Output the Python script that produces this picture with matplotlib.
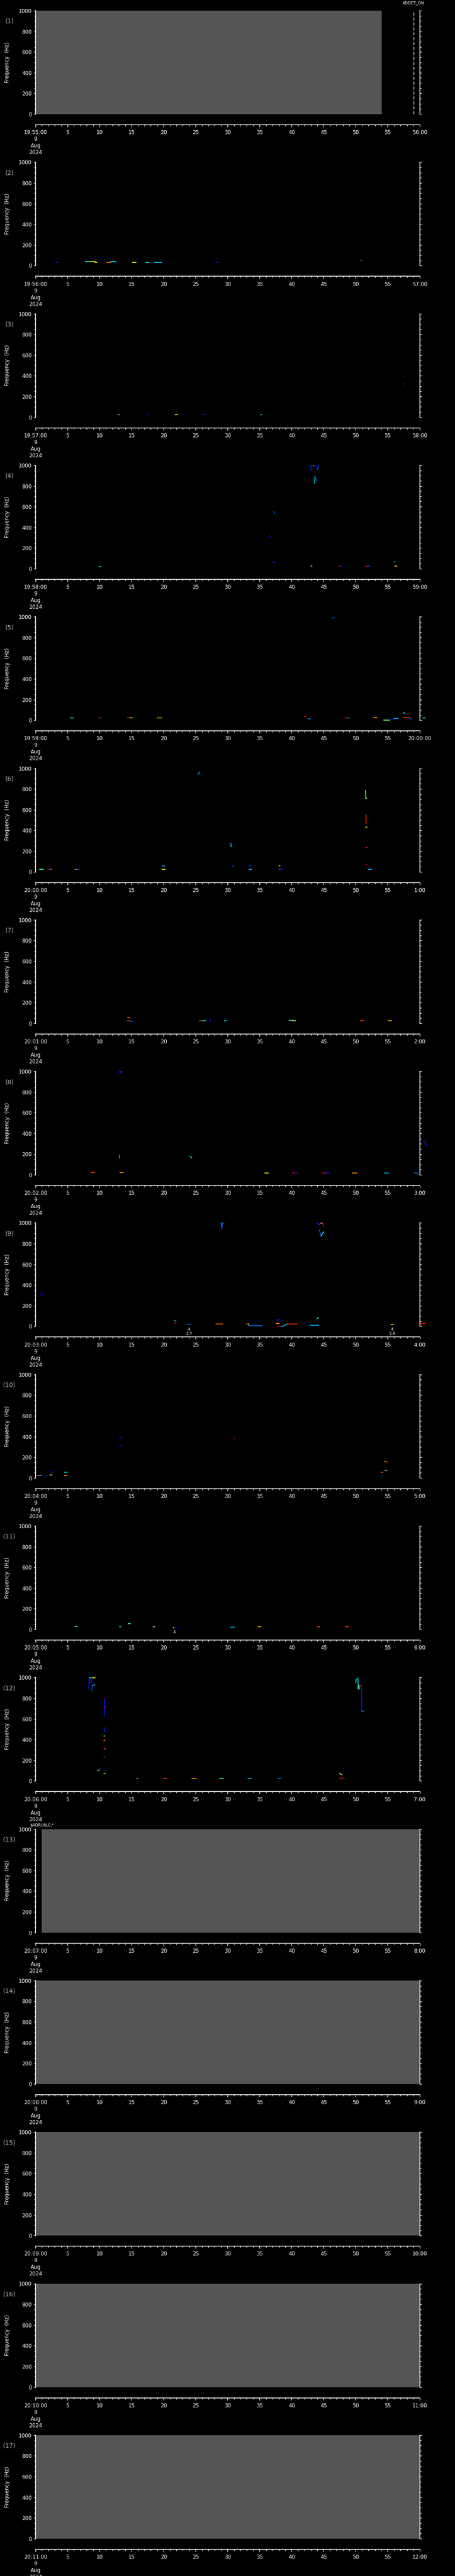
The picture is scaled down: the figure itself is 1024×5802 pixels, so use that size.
import numpy as np
import matplotlib.pyplot as plt
from matplotlib import transforms

# Time axis labels, one panel per minute
start_labels = ["19:55:00", "19:56:00", "19:57:00", "19:58:00", "19:59:00",
                "20:00:00", "20:01:00", "20:02:00", "20:03:00", "20:04:00",
                "20:05:00", "20:06:00", "20:07:00", "20:08:00", "20:09:00",
                "20:10:00", "20:11:00"]
end_labels = ["56:00", "57:00", "58:00", "59:00", "20:00:00", "1:00", "2:00",
              "3:00", "4:00", "5:00", "6:00", "7:00", "8:00", "9:00", "10:00",
              "11:00", "12:00"]
date_lines = ["9", "Aug", "2024"]
sec_ticks = list(range(0, 61, 5))
freq_ticks = [0, 200, 400, 600, 800, 1000]

# Segments of spectral power: (t0 [s], t1 [s], f0 [Hz], f1 [Hz], colour level 0..1)
seg_01 = []
seg_02 = [(3.2, 3.5, 33, 33, 0.15), (7.8, 8.6, 38, 38, 0.38), (8.6, 9.3, 38, 38, 0.65),
          (9.3, 9.6, 33, 33, 0.65), (11.1, 11.7, 33, 33, 0.8), (11.7, 12.4, 38, 38, 0.35),
          (12.4, 12.6, 33, 33, 0.2), (15.1, 15.7, 33, 33, 0.62), (17.2, 17.7, 33, 33, 0.35),
          (18.6, 19.7, 33, 33, 0.32), (28.3, 28.5, 33, 33, 0.15), (50.8, 50.9, 54, 54, 0.38)]
seg_03 = [(12.8, 12.95, 26, 26, 0.9), (12.95, 13.1, 26, 26, 0.35), (17.35, 17.5, 26, 26, 0.15),
          (21.8, 22.2, 26, 26, 0.6), (26.3, 26.6, 26, 26, 0.15), (35.1, 35.3, 26, 26, 0.3),
          (57.4, 57.5, 394, 394, 1.0), (57.4, 57.5, 324, 316, 1.0)]
seg_04 = [(43.0, 43.05, 997, 950, 0.15), (43.0, 43.2, 997, 997, 0.2), (43.4, 43.5, 997, 997, 0.8),
          (43.9, 44.05, 997, 960, 0.15), (44.05, 44.2, 960, 997, 0.2),
          (43.6, 43.65, 825, 897, 0.35), (43.65, 43.9, 897, 850, 0.2),
          (37.2, 37.4, 553, 530, 0.2), (36.5, 36.7, 323, 302, 0.15), (37.1, 37.4, 59, 59, 0.15),
          (9.9, 10.1, 21, 21, 0.4), (43.0, 43.2, 26, 26, 0.45),
          (47.3, 47.55, 26, 26, 0.9), (47.55, 47.8, 26, 26, 0.15),
          (51.6, 51.9, 26, 26, 0.9), (51.9, 52.2, 26, 26, 0.2),
          (56.05, 56.15, 69, 69, 0.35), (56.1, 56.25, 26, 26, 0.9), (56.25, 56.4, 26, 26, 0.65)]
seg_05 = [(5.4, 5.9, 21, 21, 0.4), (9.8, 10.1, 21, 21, 0.9), (10.1, 10.3, 24, 24, 0.2),
          (14.4, 14.8, 26, 26, 0.9), (14.8, 15.1, 21, 21, 0.5), (19.0, 19.7, 21, 21, 0.7),
          (42.0, 42.3, 34, 34, 0.9), (42.6, 42.9, 13, 13, 0.25), (46.4, 46.7, 986, 994, 0.2),
          (48.3, 48.7, 21, 21, 0.9), (48.7, 49.1, 21, 21, 0.25), (52.8, 53.3, 26, 26, 0.75),
          (54.4, 55.3, 0, 0, 0.5), (55.3, 56.0, 6, 6, 0.15), (56.0, 56.6, 19, 19, 0.3),
          (57.5, 58.5, 26, 26, 0.85), (58.5, 58.8, 14, 14, 0.2), (57.5, 57.6, 78, 64, 0.35),
          (60.5, 60.9, 21, 21, 0.45)]
seg_06 = [(0.6, 1.2, 24, 24, 0.4), (1.9, 2.2, 24, 24, 0.15), (2.2, 2.5, 24, 24, 0.85),
          (6.2, 6.5, 24, 24, 0.8), (6.5, 6.8, 24, 24, 0.2), (19.8, 20.2, 58, 55, 0.3),
          (19.8, 20.2, 24, 24, 0.6), (25.4, 25.6, 944, 962, 0.3),
          (30.5, 30.55, 277, 244, 0.3), (30.55, 30.7, 244, 244, 0.3), (30.7, 31.0, 49, 63, 0.2),
          (33.4, 33.7, 58, 58, 0.15), (33.4, 33.7, 24, 24, 0.3), (38.0, 38.2, 58, 58, 0.6),
          (38.0, 38.3, 24, 24, 0.9), (38.3, 38.6, 24, 24, 0.15),
          (51.55, 51.6, 787, 709, 0.5), (51.6, 51.7, 709, 709, 0.5), (51.6, 51.65, 550, 469, 0.85),
          (51.6, 51.75, 430, 430, 0.6), (51.6, 51.75, 234, 234, 0.9), (51.6, 51.75, 71, 71, 0.95),
          (52.0, 52.5, 24, 24, 0.3)]
seg_07 = [(14.4, 14.7, 55, 55, 0.8), (14.3, 14.7, 26, 26, 0.9), (14.7, 15.1, 21, 21, 0.25),
          (25.6, 26.1, 26, 26, 0.85), (26.1, 26.6, 26, 26, 0.35), (27.25, 27.3, 37, 18, 0.15),
          (29.5, 29.8, 26, 26, 0.35), (39.6, 40.1, 29, 29, 0.35), (40.1, 40.6, 26, 26, 0.6),
          (50.7, 51.2, 26, 26, 0.85), (55.1, 55.6, 26, 26, 0.7)]
seg_08 = [(13.1, 13.5, 997, 997, 0.2), (13.25, 13.3, 997, 982, 0.15), (13.1, 13.15, 160, 193, 0.3),
          (24.1, 24.4, 176, 167, 0.35), (8.7, 9.2, 24, 24, 0.85), (13.2, 13.7, 24, 24, 0.75),
          (35.8, 36.4, 19, 19, 0.6), (40.1, 40.5, 19, 19, 0.9), (40.5, 40.9, 19, 19, 0.15),
          (44.8, 45.4, 19, 19, 0.9), (45.4, 45.9, 19, 19, 0.15), (49.5, 50.2, 19, 19, 0.75),
          (54.5, 55.1, 19, 19, 0.3), (59.2, 59.7, 19, 19, 0.25), (60.7, 61.1, 326, 285, 0.15)]
seg_09 = [(0.7, 1.2, 329, 289, 0.1),
          (29.0, 29.1, 999, 960, 0.3), (29.1, 29.2, 941, 999, 0.2), (29.2, 29.4, 999, 999, 0.2),
          (43.9, 44.3, 999, 985, 0.15), (44.3, 44.6, 985, 999, 0.2), (44.6, 44.8, 999, 999, 0.6),
          (44.8, 45.0, 999, 970, 0.9), (44.3, 44.6, 934, 874, 0.2), (44.6, 45.0, 874, 914, 0.4),
          (44.0, 44.2, 74, 86, 0.35), (21.7, 21.9, 54, 54, 0.35), (21.7, 21.9, 33, 33, 0.9),
          (23.7, 24.2, 20, 20, 0.2), (28.2, 29.2, 24, 24, 0.8),
          (32.9, 33.3, 24, 24, 0.85), (33.3, 33.35, 24, 7, 0.5), (33.35, 35.3, 7, 7, 0.25),
          (37.6, 38.0, 63, 63, 0.15), (37.6, 38.0, 29, 29, 0.75),
          (37.7, 38.3, 3, 3, 0.9), (38.3, 38.7, 3, 3, 0.3), (38.7, 39.3, 3, 24, 0.35),
          (39.3, 40.9, 24, 24, 0.85), (41.8, 42.0, 33, 33, 0.15), (42.9, 44.2, 10, 10, 0.3),
          (55.5, 55.9, 20, 20, 0.6), (60.0, 60.9, 29, 29, 0.9)]
seg_10 = [(0.0, 0.5, 24, 24, 0.9), (0.5, 1.0, 24, 24, 0.3), (1.6, 2.2, 24, 24, 0.15),
          (2.3, 2.6, 61, 53, 0.15), (2.3, 2.6, 29, 29, 0.65), (4.5, 4.9, 55, 55, 0.35),
          (4.5, 4.9, 24, 24, 0.75), (13.1, 13.4, 389, 389, 0.15), (13.1, 13.4, 310, 310, 0.1),
          (30.95, 31.05, 390, 372, 1.0), (54.0, 54.2, 55, 55, 0.8), (54.0, 54.15, 24, 24, 0.15),
          (54.5, 54.9, 158, 153, 0.75), (54.5, 54.7, 73, 73, 0.9), (54.7, 54.9, 73, 73, 0.35)]
seg_11 = [(6.2, 6.5, 29, 29, 0.45), (13.1, 13.3, 24, 24, 0.35), (14.5, 14.8, 55, 55, 0.45),
          (18.4, 18.6, 24, 24, 0.45), (21.5, 21.7, 16, 16, 0.65), (21.7, 22.0, 16, 16, 0.15),
          (30.5, 31.1, 21, 21, 0.3), (34.8, 35.2, 24, 24, 0.7), (44.0, 44.4, 24, 24, 0.85),
          (48.4, 48.9, 24, 24, 0.85)]
seg_12 = [(8.3, 8.4, 890, 996, 0.15), (8.45, 8.5, 940, 996, 0.15), (8.5, 8.9, 996, 996, 0.35),
          (8.9, 9.3, 996, 996, 0.65), (8.75, 8.8, 996, 952, 0.15), (8.8, 8.85, 874, 920, 0.2),
          (8.85, 9.2, 920, 930, 0.35),
          (10.75, 10.8, 789, 631, 0.15), (10.7, 10.85, 789, 789, 0.9), (10.7, 10.9, 712, 712, 0.9),
          (10.8, 10.85, 631, 631, 0.2), (10.8, 10.85, 474, 517, 0.15), (10.7, 10.8, 434, 434, 0.6),
          (10.7, 10.85, 391, 391, 0.8), (10.7, 10.9, 310, 310, 0.85), (10.7, 10.85, 233, 233, 0.25),
          (9.65, 10.0, 103, 103, 0.6), (10.0, 10.1, 103, 123, 0.2), (10.7, 10.9, 74, 74, 0.5),
          (15.8, 16.0, 23, 23, 0.35), (20.0, 20.5, 23, 23, 0.85), (24.4, 25.1, 23, 23, 0.75),
          (28.7, 29.3, 23, 23, 0.4), (33.2, 33.7, 23, 23, 0.3), (37.9, 38.3, 23, 23, 0.25),
          (47.5, 47.8, 74, 60, 0.6), (47.5, 48.0, 27, 27, 0.9), (48.0, 48.4, 24, 24, 0.15),
          (50.0, 50.1, 950, 980, 0.35), (50.35, 50.4, 996, 889, 0.35),
          (50.5, 50.8, 920, 920, 0.85), (50.5, 50.55, 920, 889, 0.65),
          (50.9, 50.95, 920, 674, 0.15), (51.0, 51.2, 674, 674, 0.3)]
panel_segments = [seg_01, seg_02, seg_03, seg_04, seg_05, seg_06, seg_07, seg_08, seg_09,
                  seg_10, seg_11, seg_12, [], [], [], [], []]

# No-data (gray) spans: panel number -> (t0, t1)
gray_panels = [1, 13, 14, 15, 16, 17]
gray_t0 = [0.0, 1.0, 0.0, 0.0, 0.0, 0.0]
gray_t1 = [54.06, 60.0, 60.0, 60.0, 60.0, 60.0]

# Event markers (panel, time, text)
event_panels = [1, 13]
event_times = [59.06, 1.0]
event_texts = ["ADDET_ON", r"\$ADRUN,0,*"]
event_dashed = [True, False]

# Small numeric annotations under the panel
note_panels = [9, 9, 11]
note_times = [24.0, 55.7, 21.7]
note_texts = ["4\n2.7", "4\n2.8", "4"]

W, H = 1024, 5802
fig = plt.figure(figsize=(W / 100, H / 100), dpi=100, facecolor='black')
cmap = plt.get_cmap('jet')

for i in range(17):
    pnum = i + 1
    top = 24 + i * 341.3
    ax = fig.add_axes([80 / W, 1 - (top + 233) / H, 864.5 / W, 233 / H])
    ax.set_facecolor('black')
    ax.set_xlim(0, 60)
    ax.set_ylim(0, 1000)

    # gray "no data" areas
    if pnum in gray_panels:
        k = gray_panels.index(pnum)
        ax.axvspan(gray_t0[k], gray_t1[k], color='#555555', lw=0, zorder=0)

    # spectral segments
    for t0, t1, f0, f1, c in panel_segments[i]:
        ax.plot([t0, t1], [f0, f1], color=cmap(c), lw=1.3,
                solid_capstyle='projecting', clip_on=False, zorder=2)

    # event lines and labels
    for k, p in enumerate(event_panels):
        if p != pnum:
            continue
        if event_dashed[k]:
            ax.axvline(event_times[k], color='white', lw=1.0, dashes=(5, 3))
        trans = transforms.blended_transform_factory(ax.transData, ax.transAxes)
        yy = 1.073 if event_dashed[k] else 1.039
        ax.text(event_times[k], yy, event_texts[k], transform=trans, color='white',
                fontsize=6.5, ha='center', va='center')

    for k, p in enumerate(note_panels):
        if p != pnum:
            continue
        trans = transforms.blended_transform_factory(ax.transData, ax.transAxes)
        ax.text(note_times[k], -0.01, note_texts[k], transform=trans, color='white',
                fontsize=6.5, ha='center', va='top', linespacing=1.2)

    # axes styling
    for side in ['left', 'right', 'bottom']:
        ax.spines[side].set_color('white')
        ax.spines[side].set_linewidth(1.2)
    ax.spines['top'].set_visible(False)
    ax.spines['bottom'].set_position(('outward', 17.3))

    ax.set_yticks(freq_ticks)
    ax.set_yticks(np.arange(0, 1001, 50), minor=True)
    ax.set_yticklabels([str(v) for v in freq_ticks])
    ax.tick_params(axis='y', which='both', direction='out', left=True, right=True,
                   colors='white', labelsize=8.5, width=1.0, pad=3.0)
    ax.tick_params(axis='y', which='major', length=3)
    ax.tick_params(axis='y', which='minor', length=2)

    labels = [start_labels[i] + "\n" + "\n".join(date_lines)]
    labels += [str(s) for s in sec_ticks[1:-1]] + [end_labels[i]]
    ax.set_xticks(sec_ticks)
    ax.set_xticks(np.arange(0, 61, 1), minor=True)
    ax.set_xticklabels(labels)
    ax.tick_params(axis='x', which='both', direction='out', colors='white',
                   labelsize=8.5, width=1.0, pad=4.5)
    ax.tick_params(axis='x', which='major', length=3.6)
    ax.tick_params(axis='x', which='minor', length=2.5)
    for lbl in ax.get_xticklabels():
        lbl.set_linespacing(1.2)

    ax.set_ylabel('Frequency  (Hz)', color='white', fontsize=8.5)
    ax.yaxis.set_label_coords(-0.066, 0.5)
    ax.text(-0.068, 0.897, '(%d)' % pnum, transform=ax.transAxes, color='#b0b0b0',
            fontsize=10, ha='center', va='center')

fig.savefig('out.png', dpi=100, facecolor='black')
